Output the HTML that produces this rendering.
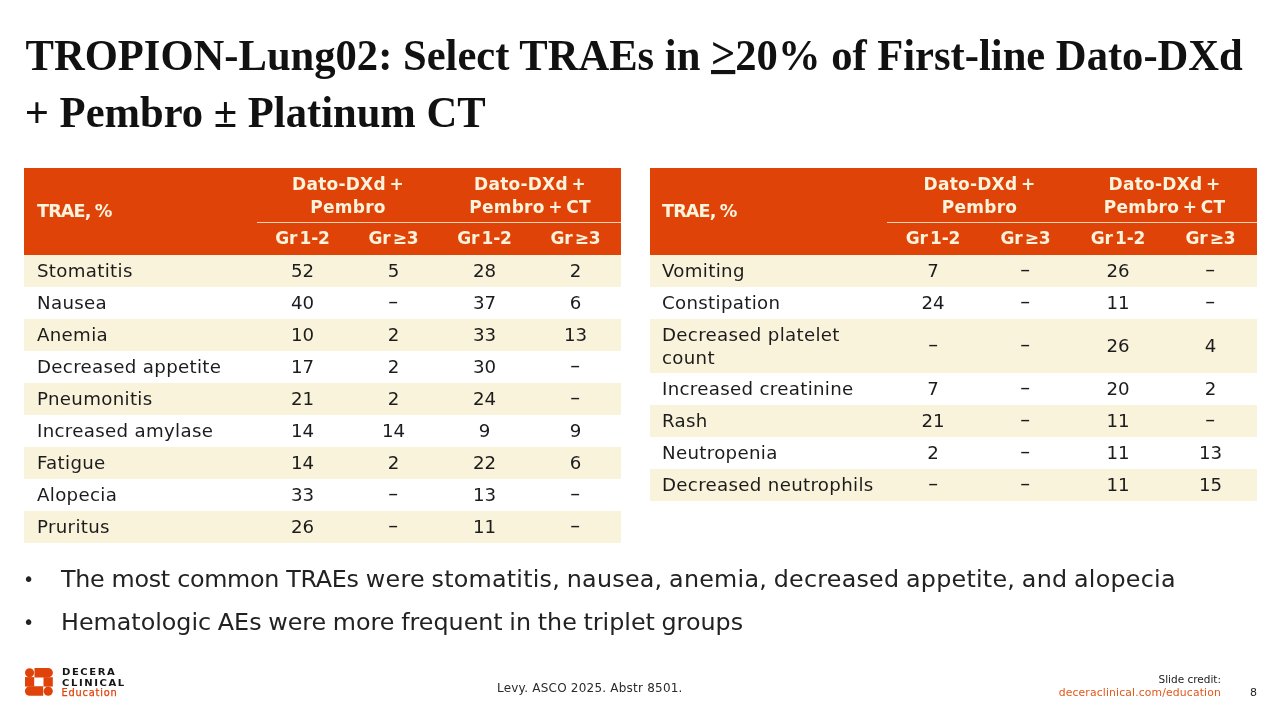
<!DOCTYPE html>
<html lang="en">
<head>
<meta charset="utf-8">
<title>TROPION-Lung02: Select TRAEs</title>
<style>
html,body{margin:0;padding:0;}
body{width:1280px;height:720px;background:#fff;position:relative;overflow:hidden;color:#1a1a1a;
  font-family:"DejaVu Sans","Liberation Sans",sans-serif;}
.title{position:absolute;left:25.5px;top:26.8px;width:1240px;margin:0;
  font-family:"Liberation Serif",serif;font-weight:bold;font-size:42.6px;line-height:57.5px;color:#111;white-space:nowrap;}
.title .ln{display:block;transform:scaleY(1.035);transform-origin:0 43.2px;}
.title u{text-decoration-thickness:3.5px;text-underline-offset:2.2px;position:relative;top:-2px;}
.tbl{position:absolute;top:168px;}
.hdr{position:absolute;left:0;top:0;height:87px;background:#DF4308;color:#FBF3DC;font-weight:bold;font-size:17px;}
.hdr .lab{position:absolute;left:13px;top:32.5px;line-height:20px;font-size:17.6px;letter-spacing:-0.85px;word-spacing:-1.2px;}
.hdr .grp{position:absolute;top:5px;text-align:center;line-height:23px;word-spacing:-2.6px;letter-spacing:0.25px;}
.hdr .rule{position:absolute;top:54.2px;height:1px;background:#FBF3DC;opacity:.82;right:0;}
.hdr .sub{position:absolute;top:59px;text-align:center;line-height:23px;word-spacing:-3.5px;letter-spacing:-0.2px;}
.row{position:absolute;left:0;height:32px;font-size:18.2px;color:#1c1c1c;}
.row.c{background:#FAF3DC;}
.row .n{position:absolute;left:13px;top:0;line-height:32px;white-space:nowrap;letter-spacing:0.32px;}
#t2 .row .n,#t2 .hdr .lab{left:12px;}
.row .v{position:absolute;top:0;line-height:32px;text-align:center;}
.ds{display:inline-block;transform:translateY(-2.4px) scaleX(1.65);}
.bul{position:absolute;left:25px;font-size:23.8px;line-height:40px;color:#222;white-space:nowrap;}
.bul .d{position:absolute;left:-2px;top:0;font-size:19px;}
.bul .t{position:absolute;left:36px;top:0;}
.foot{position:absolute;font-size:11.5px;color:#222;white-space:nowrap;}
.lg{position:absolute;left:61.5px;font-weight:bold;font-size:8.3px;line-height:10px;letter-spacing:1.3px;color:#151515;white-space:nowrap;transform:scaleX(1.21);transform-origin:0 0;}
.lg2{position:absolute;left:61.5px;top:686.5px;font-size:9.8px;line-height:12px;color:#E0430A;white-space:nowrap;letter-spacing:0.8px;-webkit-text-stroke:0.25px #E0430A;}
</style>
</head>
<body>
<h1 class="title"><span class="ln">TROPION-Lung02: Select TRAEs in <u>&gt;</u>20% of First-line Dato-DXd</span><span class="ln" style="margin-left:-0.8px;">+ Pembro ± Platinum CT</span></h1>

<!-- TABLE 1 -->
<div class="tbl" id="t1" style="left:24px;width:597px;">
  <div class="hdr" style="width:597px;">
    <div class="lab">TRAE, %</div>
    <div class="grp" style="left:233px;width:182px;">Dato-DXd +<br>Pembro</div>
    <div class="grp" style="left:415px;width:182px;">Dato-DXd +<br>Pembro + CT</div>
    <div class="rule" style="left:233px;"></div>
    <div class="sub" style="left:233px;width:91px;">Gr 1-2</div>
    <div class="sub" style="left:324px;width:91px;">Gr ≥3</div>
    <div class="sub" style="left:415px;width:91px;">Gr 1-2</div>
    <div class="sub" style="left:506px;width:91px;">Gr ≥3</div>
  </div>
  <div class="row c" style="top:87px;width:597px;height:32px;"><div class="n">Stomatitis</div><div class="v" style="left:233px;width:91px;">52</div><div class="v" style="left:324px;width:91px;">5</div><div class="v" style="left:415px;width:91px;">28</div><div class="v" style="left:506px;width:91px;">2</div></div>
  <div class="row" style="top:119px;width:597px;height:32px;"><div class="n">Nausea</div><div class="v" style="left:233px;width:91px;">40</div><div class="v" style="left:324px;width:91px;"><span class="ds">-</span></div><div class="v" style="left:415px;width:91px;">37</div><div class="v" style="left:506px;width:91px;">6</div></div>
  <div class="row c" style="top:151px;width:597px;height:32px;"><div class="n">Anemia</div><div class="v" style="left:233px;width:91px;">10</div><div class="v" style="left:324px;width:91px;">2</div><div class="v" style="left:415px;width:91px;">33</div><div class="v" style="left:506px;width:91px;">13</div></div>
  <div class="row" style="top:183px;width:597px;height:32px;"><div class="n">Decreased appetite</div><div class="v" style="left:233px;width:91px;">17</div><div class="v" style="left:324px;width:91px;">2</div><div class="v" style="left:415px;width:91px;">30</div><div class="v" style="left:506px;width:91px;"><span class="ds">-</span></div></div>
  <div class="row c" style="top:215px;width:597px;height:32px;"><div class="n">Pneumonitis</div><div class="v" style="left:233px;width:91px;">21</div><div class="v" style="left:324px;width:91px;">2</div><div class="v" style="left:415px;width:91px;">24</div><div class="v" style="left:506px;width:91px;"><span class="ds">-</span></div></div>
  <div class="row" style="top:247px;width:597px;height:32px;"><div class="n">Increased amylase</div><div class="v" style="left:233px;width:91px;">14</div><div class="v" style="left:324px;width:91px;">14</div><div class="v" style="left:415px;width:91px;">9</div><div class="v" style="left:506px;width:91px;">9</div></div>
  <div class="row c" style="top:279px;width:597px;height:32px;"><div class="n">Fatigue</div><div class="v" style="left:233px;width:91px;">14</div><div class="v" style="left:324px;width:91px;">2</div><div class="v" style="left:415px;width:91px;">22</div><div class="v" style="left:506px;width:91px;">6</div></div>
  <div class="row" style="top:311px;width:597px;height:32px;"><div class="n">Alopecia</div><div class="v" style="left:233px;width:91px;">33</div><div class="v" style="left:324px;width:91px;"><span class="ds">-</span></div><div class="v" style="left:415px;width:91px;">13</div><div class="v" style="left:506px;width:91px;"><span class="ds">-</span></div></div>
  <div class="row c" style="top:343px;width:597px;height:32px;"><div class="n">Pruritus</div><div class="v" style="left:233px;width:91px;">26</div><div class="v" style="left:324px;width:91px;"><span class="ds">-</span></div><div class="v" style="left:415px;width:91px;">11</div><div class="v" style="left:506px;width:91px;"><span class="ds">-</span></div></div>
</div>

<!-- TABLE 2 -->
<div class="tbl" id="t2" style="left:650px;width:607px;">
  <div class="hdr" style="width:607px;">
    <div class="lab">TRAE, %</div>
    <div class="grp" style="left:237px;width:185px;">Dato-DXd +<br>Pembro</div>
    <div class="grp" style="left:422px;width:185px;">Dato-DXd +<br>Pembro + CT</div>
    <div class="rule" style="left:237px;"></div>
    <div class="sub" style="left:237px;width:92px;">Gr 1-2</div>
    <div class="sub" style="left:329px;width:93px;">Gr ≥3</div>
    <div class="sub" style="left:422px;width:92px;">Gr 1-2</div>
    <div class="sub" style="left:514px;width:93px;">Gr ≥3</div>
  </div>
  <div class="row c" style="top:87px;width:607px;height:32px;"><div class="n">Vomiting</div><div class="v" style="left:237px;width:92px;">7</div><div class="v" style="left:329px;width:93px;"><span class="ds">-</span></div><div class="v" style="left:422px;width:92px;">26</div><div class="v" style="left:514px;width:93px;"><span class="ds">-</span></div></div>
  <div class="row" style="top:119px;width:607px;height:32px;"><div class="n">Constipation</div><div class="v" style="left:237px;width:92px;">24</div><div class="v" style="left:329px;width:93px;"><span class="ds">-</span></div><div class="v" style="left:422px;width:92px;">11</div><div class="v" style="left:514px;width:93px;"><span class="ds">-</span></div></div>
  <div class="row c" style="top:151px;width:607px;height:54px;"><div class="n" style="line-height:23px;top:4px;">Decreased platelet<br>count</div><div class="v" style="left:237px;width:92px;line-height:54px;"><span class="ds">-</span></div><div class="v" style="left:329px;width:93px;line-height:54px;"><span class="ds">-</span></div><div class="v" style="left:422px;width:92px;line-height:54px;">26</div><div class="v" style="left:514px;width:93px;line-height:54px;">4</div></div>
  <div class="row" style="top:205px;width:607px;height:32px;"><div class="n">Increased creatinine</div><div class="v" style="left:237px;width:92px;">7</div><div class="v" style="left:329px;width:93px;"><span class="ds">-</span></div><div class="v" style="left:422px;width:92px;">20</div><div class="v" style="left:514px;width:93px;">2</div></div>
  <div class="row c" style="top:237px;width:607px;height:32px;"><div class="n">Rash</div><div class="v" style="left:237px;width:92px;">21</div><div class="v" style="left:329px;width:93px;"><span class="ds">-</span></div><div class="v" style="left:422px;width:92px;">11</div><div class="v" style="left:514px;width:93px;"><span class="ds">-</span></div></div>
  <div class="row" style="top:269px;width:607px;height:32px;"><div class="n">Neutropenia</div><div class="v" style="left:237px;width:92px;">2</div><div class="v" style="left:329px;width:93px;"><span class="ds">-</span></div><div class="v" style="left:422px;width:92px;">11</div><div class="v" style="left:514px;width:93px;">13</div></div>
  <div class="row c" style="top:301px;width:607px;height:32px;"><div class="n">Decreased neutrophils</div><div class="v" style="left:237px;width:92px;"><span class="ds">-</span></div><div class="v" style="left:329px;width:93px;"><span class="ds">-</span></div><div class="v" style="left:422px;width:92px;">11</div><div class="v" style="left:514px;width:93px;">15</div></div>
</div>

<div class="bul" style="top:559px;"><span class="d">•</span><span class="t"><span style="letter-spacing:-0.3px;">The most common TRAEs </span><span style="letter-spacing:0.24px;word-spacing:-1.1px;">were stomatitis, nausea, anemia, decreased appetite, and alopecia</span></span></div>
<div class="bul" style="top:602px;"><span class="d">•</span><span class="t" style="word-spacing:-0.9px;">Hematologic AEs were more frequent in the triplet groups</span></div>

<div class="foot" style="left:497px;top:680.8px;font-size:12px;letter-spacing:0.22px;color:#2a2a2a;">Levy. ASCO 2025. Abstr 8501.</div>
<div class="foot" style="right:59px;top:673px;font-size:10.5px;">Slide credit:</div>
<div class="foot" style="right:59px;top:686.2px;font-size:10.8px;letter-spacing:0.15px;color:#E4571A;">deceraclinical.com/education</div>
<div class="foot" style="left:1250px;top:686px;font-size:11px;">8</div>

<!-- logo -->
<svg class="logo" style="position:absolute;left:25.3px;top:667.9px;" width="27.8" height="27.8" viewBox="0 0 27.8 27.8">
  <g fill="#E0430A">
    <circle cx="4.55" cy="4.7" r="4.55"/>
    <path d="M9.5 0H23.2A4.7 4.7 0 0 1 23.2 9.4H9.5Z"/>
    <rect x="0" y="9.1" width="9.2" height="9.5"/>
    <rect x="18.5" y="9.2" width="9.3" height="9.4"/>
    <path d="M18.2 18.3V27.8H4.7A4.75 4.75 0 0 1 4.7 18.3Z"/>
    <circle cx="23.2" cy="23.2" r="4.6"/>
  </g>
</svg>
<div class="lg" style="top:667px;">DECERA</div>
<div class="lg" style="top:678px;">CLINICAL</div>
<div class="lg2">Education</div>
</body>
</html>
